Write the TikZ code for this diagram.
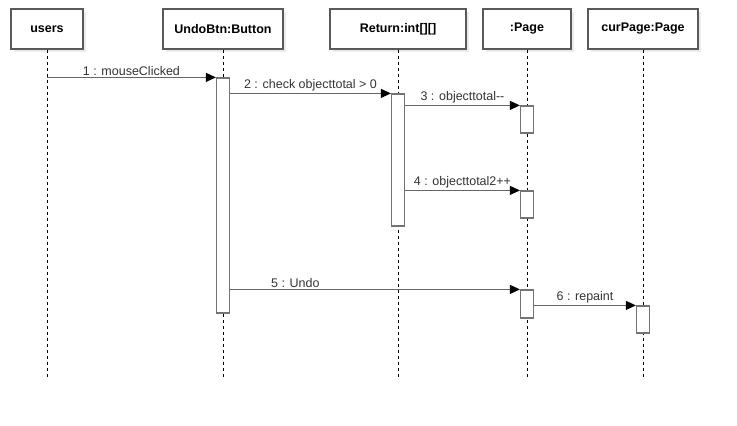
\documentclass[tikz,border=0pt]{standalone}
\usepackage{fontspec}
\setmainfont{Liberation Sans}
\usetikzlibrary{arrows.meta, positioning, calc, shadows}

\begin{document}
\begin{tikzpicture}[x=1pt, y=-1pt,
    obj/.style={draw=black!65, line width=1.2pt, fill=white, rectangle, minimum height=40pt, inner sep=0pt,
      font=\fontsize{12.5}{14}\selectfont\bfseries, drop shadow={shadow xshift=3pt, shadow yshift=-3pt, fill=black!8, opacity=1}},
    life/.style={dash pattern=on 3pt off 3pt, black, line width=0.8pt},
    act/.style={draw=black!55, line width=1.2pt, fill=white, rectangle, minimum width=13pt, inner sep=0pt},
    msg/.style={draw=black!60, line width=1pt, -{Triangle[black, length=10pt, width=9pt]}},
    lbl/.style={above, inner sep=1.5pt, text=black!80, font=\fontsize{12.5}{14}\selectfont}]
    \useasboundingbox (0,0) rectangle (737,426);

    % objects
    \node (users) [obj, minimum width=72pt] at (47,29) {users};
    \node (undo) [obj, minimum width=120pt] at (223,29) {UndoBtn:Button};
    \node (ret) [obj, minimum width=136pt] at (398,29) {Return:int{[}{]}{[}{]}};
    \node (page) [obj, minimum width=88pt] at (527,29) {:Page};
    \node (cur) [obj, minimum width=110pt] at (643,29) {curPage:Page};

    % lifelines
    \foreach \o in {users, undo, ret, page, cur}
        \draw[life] (\o.south) -- (\o.south |- 0,378);

    % activations
    \node (aundo) [act, minimum height=235pt] at (223,195.5) {};
    \node (aret) [act, minimum height=132pt] at (398,160) {};
    \node (apage1) [act, minimum height=27pt] at (527,119.5) {};
    \node (apage2) [act, minimum height=27pt] at (527,204.5) {};
    \node (apage3) [act, minimum height=28pt] at (527,304) {};
    \node (acur) [act, minimum height=27pt] at (643,319.5) {};

    % messages
    \draw[msg] (users |- aundo.north) -- (aundo.north west) node[lbl, midway] {1 : mouseClicked};
    \draw[msg] (aundo.east |- aret.north) -- (aret.north west) node[lbl, midway] {2 : check objecttotal > 0};
    \draw[msg] (aret.east |- apage1.north) -- (apage1.north west) node[lbl, midway] {3 : objecttotal{-}{-}};
    \draw[msg] (aret.east |- apage2.north) -- (apage2.north west) node[lbl, midway] {4 : objecttotal2++};
    \draw[msg] (aundo.east |- apage3.north) -- (apage3.north west) node[lbl, pos=0.225] {5 : Undo};
    \draw[msg] (apage3.east |- acur.north) -- (acur.north west) node[lbl, midway] {6 : repaint};
\end{tikzpicture}
\end{document}
